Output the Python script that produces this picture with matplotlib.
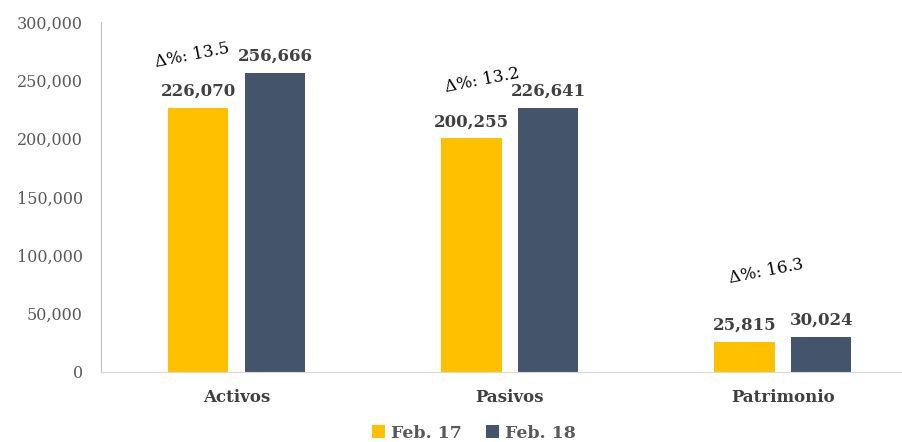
import matplotlib
matplotlib.use("Agg")
import matplotlib.pyplot as plt
import numpy as np

categories = ["Activos", "Pasivos", "Patrimonio"]
series_names = ["Feb. 17", "Feb. 18"]
feb17 = [226070, 200255, 25815]
feb18 = [256666, 226641, 30024]
deltas = ["13.5", "13.2", "16.3"]
yticks = [0, 50000, 100000, 150000, 200000, 250000, 300000]

c17 = "#FFC000"
c18 = "#44546A"
serif = ["DejaVu Serif"]

fig = plt.figure(figsize=(9.02, 4.42), dpi=100)
ax = fig.add_axes([101/902, 70/442, 801/902, 350/442])

x = np.arange(len(categories))
w = 0.22
off = 0.141
b1 = ax.bar(x - off, feb17, w, color=c17, label=series_names[0])
b2 = ax.bar(x + off, feb18, w, color=c18, label=series_names[1])

for bars, vals in ((b1, feb17), (b2, feb18)):
    for r, v in zip(bars, vals):
        ax.text(r.get_x() + r.get_width()/2, v + 7000, f"{v:,}", ha="center", va="bottom",
                fontsize=12, fontweight="bold", color="#404040", family=serif)

# delta annotations
delta_pos = [(-0.165, 271000), (0.90, 250000), (1.94, 86000)]
for (dx, dy), d in zip(delta_pos, deltas):
    ax.text(dx, dy, f"Δ%: {d}", ha="center", va="center", rotation=11,
            fontsize=12, color="black", family=serif)

ax.set_xlim(-0.498, 2.436)
ax.set_ylim(0, 300000)
ax.set_yticks(yticks)
ax.set_yticklabels([f"{t:,}" for t in yticks], family=serif, fontsize=11.5, color="#595959")
ax.set_xticks(x)
ax.set_xticklabels(categories, family=serif, fontsize=12, fontweight="bold", color="#404040")
ax.tick_params(axis="both", length=0)
ax.tick_params(axis="y", pad=13)
ax.tick_params(axis="x", pad=12)
for s in ("top", "right"):
    ax.spines[s].set_visible(False)
ax.spines["left"].set_color("#BFBFBF")
ax.spines["bottom"].set_color("#D9D9D9")

leg = fig.legend(handles=[b1, b2], labels=series_names, loc="center", bbox_to_anchor=(474/902, 1 - 433/442),
                 ncol=2, frameon=False, handlelength=0.75, handleheight=0.75, columnspacing=1.4,
                 handletextpad=0.35, prop={"family": serif, "size": 12.5, "weight": "bold"})
for t in leg.get_texts():
    t.set_color("#595959")

fig.savefig("out.png", dpi=100)
